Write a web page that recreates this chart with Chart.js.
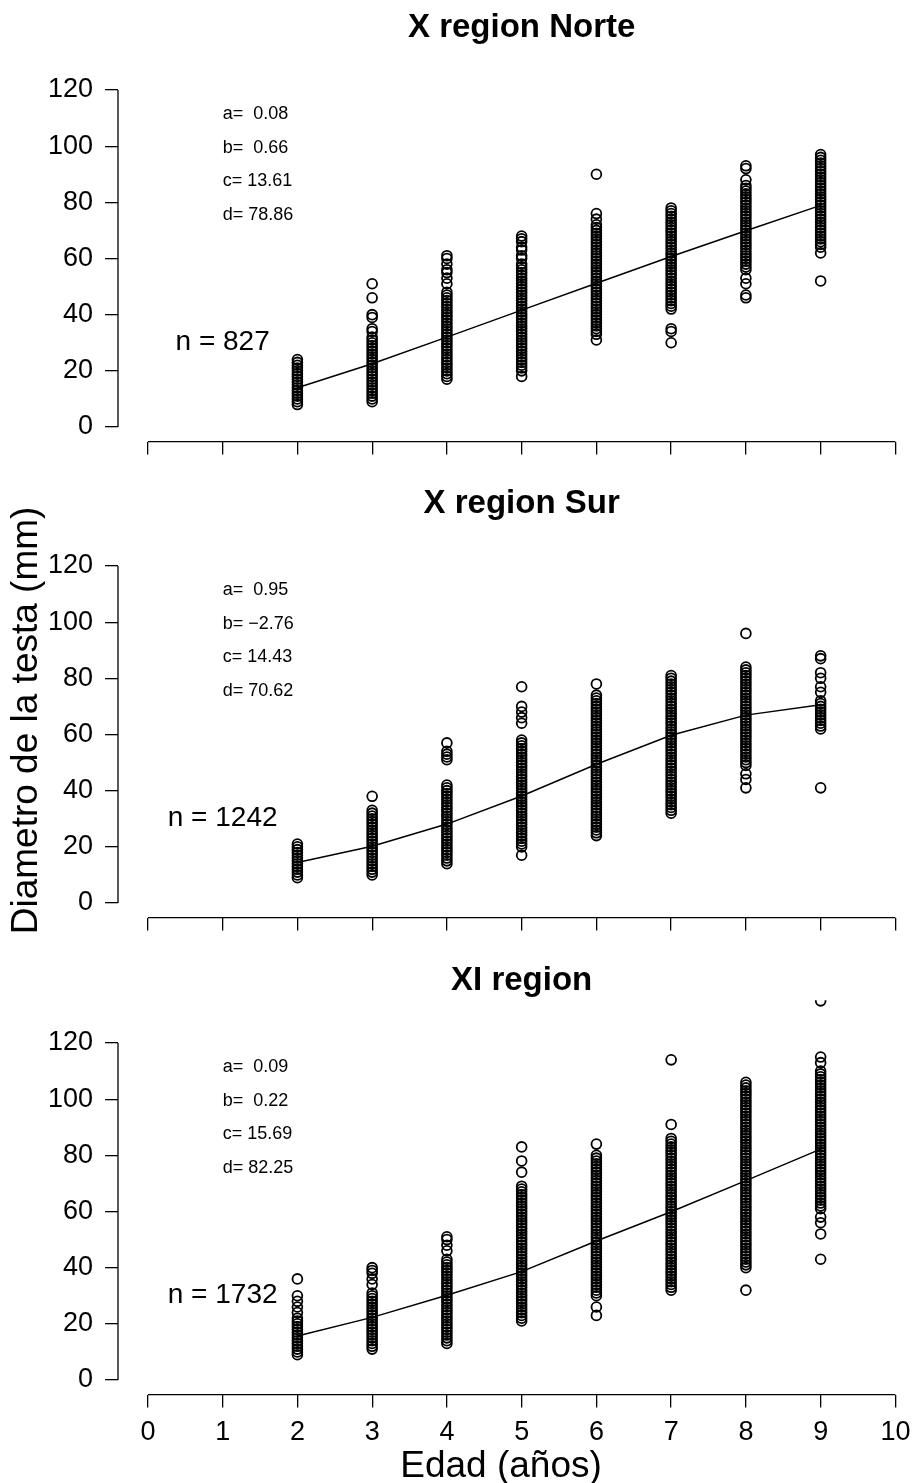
<!doctype html>
<html>
<head>
<meta charset="utf-8">
<title>Diametro de la testa por edad</title>
<script src="https://cdn.jsdelivr.net/npm/chart.js@4.4.1/dist/chart.umd.min.js"></script>
<style>
  html, body { margin: 0; padding: 0; background: #fff; overflow: hidden; }
  #wrap { position: relative; width: 913px; height: 1483px; overflow: hidden; }
  canvas { position: absolute; left: 0; }
</style>
</head>
<body>
<div id="wrap">
  <canvas id="c1" width="932" height="476" style="top:0px"></canvas>
  <canvas id="c2" width="932" height="477" style="top:476px"></canvas>
  <canvas id="c3" width="932" height="530" style="top:953px"></canvas>
</div>
<script>
const ages = [2, 3, 4, 5, 6, 7, 8, 9]
const xTicks = [0, 1, 2, 3, 4, 5, 6, 7, 8, 9, 10]
const yTicks = [0, 20, 40, 60, 80, 100, 120]

// diametros leidos por edad (mm), X region Norte
const norteDiam = [
  [8,9,10,11,12,13,14,15,16,17,18,19,20,21,22,23,24],
  [9,10,11,12,13,14,15,16,17,18,19,20,21,22,23,24,25,26,27,28,29,30,31,32,34,35,39,40,46,51],
  [17,18,19,20,21,22,23,24,25,26,27,28,29,30,31,32,33,34,35,36,37,38,39,40,41,42,43,44,45,46,47,48,51,53,55,56,58,60,61],
  [18,20,21,22,23,24,25,26,27,28,29,30,31,32,33,34,35,36,37,38,39,40,41,42,43,44,45,46,47,48,49,50,51,52,53,54,55,56,57,58,60,61,63,64,66,67,68],
  [31,33,34,35,36,37,38,39,40,41,42,43,44,45,46,47,48,49,50,51,52,53,54,55,56,57,58,59,60,61,62,63,64,65,66,67,68,69,70,71,72,74,76,90],
  [30,34,35,42,43,44,45,46,47,48,49,50,51,52,53,54,55,56,57,58,59,60,61,62,63,64,65,66,67,68,69,70,71,72,73,74,75,76,77,78],
  [46,47,51,53,56,57,58,59,60,61,62,63,64,65,66,67,68,69,70,71,72,73,74,75,76,77,78,79,80,81,82,83,84,85,86,88,92,93],
  [52,62,64,65,66,67,68,69,70,71,72,73,74,75,76,77,78,79,80,81,82,83,84,85,86,87,88,89,90,91,92,93,94,95,96,97]
]
// X region Sur
const surDiam = [
  [9,10,11,12,13,14,15,16,17,18,19,20,21],
  [10,11,12,13,14,15,16,17,18,19,20,21,22,23,24,25,26,27,28,29,30,31,32,33,38],
  [14,15,16,17,18,19,20,21,22,23,24,25,26,27,28,29,30,31,32,33,34,35,36,37,38,39,40,41,42,51,52,53,54,57],
  [17,20,21,22,23,24,25,26,27,28,29,30,31,32,33,34,35,36,37,38,39,40,41,42,43,44,45,46,47,48,49,50,51,52,53,54,55,56,57,58,64,66,68,70,77],
  [24,25,26,27,28,29,30,31,32,33,34,35,36,37,38,39,40,41,42,43,44,45,46,47,48,49,50,51,52,53,54,55,56,57,58,59,60,61,62,63,64,65,66,67,68,69,70,71,72,73,74,78],
  [32,33,34,35,36,37,38,39,40,41,42,43,44,45,46,47,48,49,50,51,52,53,54,55,56,57,58,59,60,61,62,63,64,65,66,67,68,69,70,71,72,73,74,75,76,77,78,79,80,81],
  [41,44,46,49,50,51,52,53,54,55,56,57,58,59,60,61,62,63,64,65,66,67,68,69,70,71,72,73,74,75,76,77,78,79,80,81,82,83,84,96],
  [41,62,63,64,65,66,67,68,69,70,71,72,75,77,80,82,87,88]
]
// XI region
const xiDiam = [
  [9,10,11,12,13,14,15,16,17,18,19,20,21,22,24,26,28,30,36],
  [11,12,13,14,15,16,17,18,19,20,21,22,23,24,25,26,27,28,29,30,31,34,36,38,39,40],
  [13,14,15,16,17,18,19,20,21,22,23,24,25,26,27,28,29,30,31,32,33,34,35,36,37,38,39,40,41,42,43,46,48,50,51],
  [21,22,23,24,25,26,27,28,29,30,31,32,33,34,35,36,37,38,39,40,41,42,43,44,45,46,47,48,49,50,51,52,53,54,55,56,57,58,59,60,61,62,63,64,65,66,67,68,69,74,78,83],
  [23,26,30,31,32,33,34,35,36,37,38,39,40,41,42,43,44,45,46,47,48,49,50,51,52,53,54,55,56,57,58,59,60,61,62,63,64,65,66,67,68,69,70,71,72,73,74,75,76,77,78,79,80,84],
  [32,33,34,35,36,37,38,39,40,41,42,43,44,45,46,47,48,49,50,51,52,53,54,55,56,57,58,59,60,61,62,63,64,65,66,67,68,69,70,71,72,73,74,75,76,77,78,79,80,81,82,83,84,85,86,91,114],
  [32,40,41,42,43,44,45,46,47,48,49,50,51,52,53,54,55,56,57,58,59,60,61,62,63,64,65,66,67,68,69,70,71,72,73,74,75,76,77,78,79,80,81,82,83,84,85,86,87,88,89,90,91,92,93,94,95,96,97,98,99,100,101,102,103,104,105,106],
  [43,52,56,58,61,62,63,64,65,66,67,68,69,70,71,72,73,74,75,76,77,78,79,80,81,82,83,84,85,86,87,88,89,90,91,92,93,94,95,96,97,98,99,100,101,102,103,104,105,106,107,108,109,110,113,115,135]
]

const norteFit = [14.0, 22.5, 32.0, 41.6, 51.2, 60.7, 69.9, 78.9]
const surFit = [14.4, 20.2, 28.1, 38.1, 49.4, 59.7, 66.9, 70.6]
const xiFit = [15.7, 22.3, 30.2, 38.6, 49.5, 59.9, 71.0, 82.2]

const norteParams = ['a=  0.08', 'b=  0.66', 'c= 13.61', 'd= 78.86']
const surParams = ['a=  0.95', 'b= \u22122.76', 'c= 14.43', 'd= 70.62']
const xiParams = ['a=  0.09', 'b=  0.22', 'c= 15.69', 'd= 82.25']

const titles = ['X region Norte', 'X region Sur', 'XI region']
const counts = ['n = 827', 'n = 1242', 'n = 1732']

const FONT = '"Liberation Sans", Arial, Helvetica, sans-serif'

const toPoints = diam => ages.flatMap((age, i) => diam[i].map(v => ({ x: age, y: v })))
const toLine = fit => ages.map((age, i) => ({ x: age, y: fit[i] }))

// ejes estilo R: linea solo entre el primer y ultimo tick, y textos dentro del panel
const rStyle = {
  id: 'rStyle',
  afterDraw(chart, args, opts) {
    const { ctx, chartArea } = chart
    const x = chart.scales.x, y = chart.scales.y
    ctx.save()
    ctx.strokeStyle = '#000'
    ctx.lineWidth = 1.3
    ctx.beginPath()
    ctx.moveTo(chartArea.left, y.getPixelForValue(yTicks[0]))
    ctx.lineTo(chartArea.left, y.getPixelForValue(yTicks[yTicks.length - 1]))
    ctx.moveTo(x.getPixelForValue(xTicks[0]), chartArea.bottom)
    ctx.lineTo(x.getPixelForValue(xTicks[xTicks.length - 1]), chartArea.bottom)
    ctx.stroke()

    ctx.fillStyle = '#000'
    ctx.textBaseline = 'middle'
    ctx.textAlign = 'left'
    ctx.font = '18px ' + FONT
    const rows = [111.5, 99.5, 87.5, 75.5]
    opts.params.forEach((t, i) => {
      ctx.fillText(t, x.getPixelForValue(1), y.getPixelForValue(rows[i]))
    })
    ctx.textAlign = 'center'
    ctx.font = '28px ' + FONT
    ctx.fillText(opts.n, x.getPixelForValue(1), y.getPixelForValue(30))

    // titulo del eje x, centrado en la figura como mtext(outer = TRUE)
    if (opts.xTitle) {
      ctx.font = '37px ' + FONT
      ctx.textBaseline = 'alphabetic'
      ctx.fillText(opts.xTitle, 501, chart.height - 6.3)
    }
    ctx.restore()
  }
}

const PLOT_BOTTOM = 441.6

function makePanel(id, i, diam, fit, params, showX, showYTitle) {
  const canvas = document.getElementById(id)
  const H = canvas.height
  return new Chart(canvas, {
    type: 'scatter',
    data: {
      datasets: [
        {
          data: toPoints(diam),
          pointStyle: 'circle',
          pointRadius: 4.9,
          pointBorderWidth: 1.8,
          pointBorderColor: '#000',
          pointBackgroundColor: 'rgba(0,0,0,0)',
          clip: 0
        },
        {
          type: 'line',
          data: toLine(fit),
          borderColor: '#000',
          borderWidth: 1.5,
          pointRadius: 0,
          tension: 0,
          fill: false
        }
      ]
    },
    options: {
      responsive: false,
      animation: false,
      events: [],
      layout: { padding: 0 },
      plugins: {
        legend: { display: false },
        tooltip: { enabled: false },
        title: {
          display: true,
          text: titles[i],
          fullSize: false,
          color: '#000',
          font: { family: FONT, size: 33, weight: 'bold', lineHeight: 1 },
          padding: { top: 11.4, bottom: 2.9 }
        },
        rStyle: { params: params, n: counts[i], xTitle: showX ? 'Edad (años)' : '' }
      },
      scales: {
        x: {
          type: 'linear',
          min: -0.4,
          max: 10.4,
          afterBuildTicks: s => { s.ticks = xTicks.map(v => ({ value: v })) },
          afterFit: s => { s.height = H - PLOT_BOTTOM },
          border: { display: false },
          grid: { drawOnChartArea: false, drawTicks: true, tickLength: 13, color: '#000', lineWidth: 1.3 },
          ticks: {
            display: showX,
            color: '#000',
            padding: 9,
            maxRotation: 0,
            autoSkip: false,
            font: { family: FONT, size: 27 }
          }
        },
        y: {
          min: -5.2,
          max: 135.2,
          afterBuildTicks: s => { s.ticks = yTicks.map(v => ({ value: v })) },
          afterFit: s => { s.width = 118 },
          border: { display: false },
          grid: { drawOnChartArea: false, drawTicks: true, tickLength: 13, color: '#000', lineWidth: 1.3 },
          ticks: {
            color: '#000',
            padding: 12,
            font: { family: FONT, size: 27 }
          },
          title: {
            display: showYTitle,
            text: 'Diametro de la testa (mm)',
            color: '#000',
            font: { family: FONT, size: 37, lineHeight: 1 },
            padding: { top: 8, bottom: 0 }
          }
        }
      }
    },
    plugins: [rStyle]
  })
}

makePanel('c1', 0, norteDiam, norteFit, norteParams, false, false)
makePanel('c2', 1, surDiam, surFit, surParams, false, true)
makePanel('c3', 2, xiDiam, xiFit, xiParams, true, false)
</script>
</body>
</html>
